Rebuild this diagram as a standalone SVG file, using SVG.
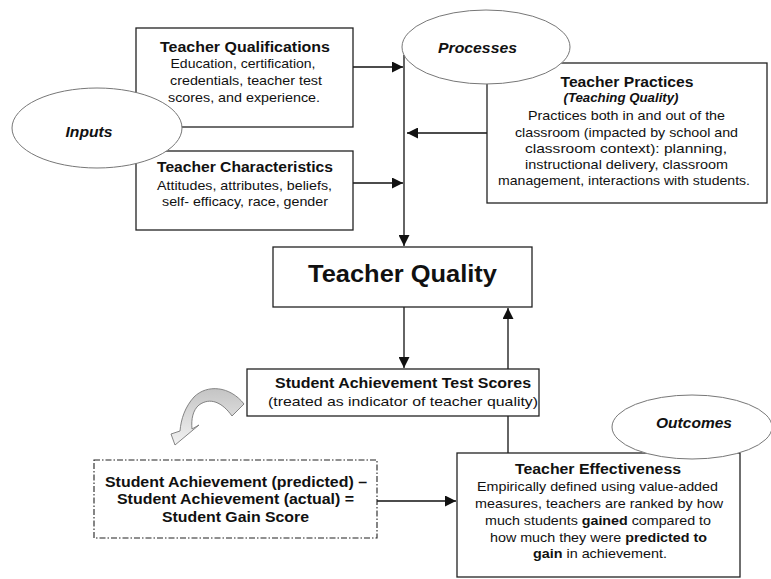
<svg xmlns="http://www.w3.org/2000/svg" width="771" height="579" viewBox="0 0 771 579">
<style>
.box{fill:#fff;stroke:#222;stroke-width:1.3}
.ell{fill:#fff;stroke:#777;stroke-width:1}
.t{font-family:"Liberation Sans",Arial,sans-serif;fill:#111;text-anchor:middle}
.b{font-weight:bold}
.h{font-size:14px;font-weight:bold}
.s{font-size:13px}
.e{font-size:14px;font-weight:bold;font-style:italic}
.ln{stroke:#111;stroke-width:1.3;fill:none}
</style>
<defs>
<marker id="ah" viewBox="0 0 10 10" refX="10" refY="5" markerWidth="11" markerHeight="11" markerUnits="userSpaceOnUse" orient="auto">
<path d="M0,0 L10,5 L0,10 Z" fill="#111"/>
</marker>
<linearGradient id="cg" x1="0" y1="0" x2="0" y2="1">
<stop offset="0" stop-color="#c4c4c4"/>
<stop offset="1" stop-color="#f2f2f2"/>
</linearGradient>
</defs>

<g id="connectors">
<line class="ln" x1="404" y1="55" x2="404" y2="246" marker-end="url(#ah)"/>
<line class="ln" x1="353" y1="67" x2="403" y2="67" marker-end="url(#ah)"/>
<line class="ln" x1="353" y1="183" x2="403" y2="183" marker-end="url(#ah)"/>
<line class="ln" x1="487" y1="133" x2="407" y2="133" marker-end="url(#ah)"/>
<line class="ln" x1="404" y1="307" x2="404" y2="368" marker-end="url(#ah)"/>
<line class="ln" x1="508" y1="453" x2="508" y2="308" marker-end="url(#ah)"/>
<line class="ln" x1="377" y1="501" x2="456" y2="501" marker-end="url(#ah)"/>
<path id="curved-arrow" d="M244,404 C230,386 207,384 194,397 C185,407 181,419 180,431 L171,434 L175,445 L199,425 L192,429 C191,419 193,410 199,405 C210,397 222,402 232,416 Z" fill="url(#cg)" stroke="#777" stroke-width="0.9"/>
</g>

<g id="teacher-qualifications">
<rect class="box" x="136" y="28" width="217" height="99"/>
<text class="t h" x="245" y="52" textLength="170" lengthAdjust="spacingAndGlyphs">Teacher Qualifications</text>
<text class="t s" x="243" y="67.5" textLength="145" lengthAdjust="spacingAndGlyphs">Education, certification,</text>
<text class="t s" x="246" y="85" textLength="152" lengthAdjust="spacingAndGlyphs">credentials, teacher test</text>
<text class="t s" x="244" y="102" textLength="152" lengthAdjust="spacingAndGlyphs">scores, and experience.</text>
</g>

<g id="teacher-characteristics">
<rect class="box" x="136" y="151" width="217" height="79"/>
<text class="t h" x="245" y="172" textLength="176" lengthAdjust="spacingAndGlyphs">Teacher Characteristics</text>
<text class="t s" x="244.5" y="190" textLength="175" lengthAdjust="spacingAndGlyphs">Attitudes, attributes, beliefs,</text>
<text class="t s" x="245" y="206" textLength="166" lengthAdjust="spacingAndGlyphs">self- efficacy, race, gender</text>
</g>

<g id="inputs">
<ellipse class="ell" cx="97" cy="128" rx="85" ry="40"/>
<text class="t e" x="89" y="137" textLength="47" lengthAdjust="spacingAndGlyphs">Inputs</text>
</g>

<g id="teacher-practices">
<rect class="box" x="487" y="63" width="280" height="140"/>
<text class="t h" x="627" y="87" textLength="133" lengthAdjust="spacingAndGlyphs">Teacher Practices</text>
<text class="t e" x="621" y="102" style="font-size:13px" textLength="115" lengthAdjust="spacingAndGlyphs">(Teaching Quality)</text>
<text class="t s" x="626.5" y="120" textLength="197" lengthAdjust="spacingAndGlyphs">Practices both in and out of the</text>
<text class="t s" x="626.5" y="137" textLength="223" lengthAdjust="spacingAndGlyphs">classroom (impacted by school and</text>
<text class="t s" x="626" y="153" textLength="202" lengthAdjust="spacingAndGlyphs">classroom context): planning,</text>
<text class="t s" x="626.5" y="169" textLength="203" lengthAdjust="spacingAndGlyphs">instructional delivery, classroom</text>
<text class="t s" x="624" y="185" textLength="252" lengthAdjust="spacingAndGlyphs">management, interactions with students.</text>
</g>

<g id="processes">
<ellipse class="ell" cx="486" cy="47" rx="84" ry="37"/>
<text class="t e" x="477.5" y="53" textLength="79" lengthAdjust="spacingAndGlyphs">Processes</text>
</g>

<g id="teacher-quality">
<rect class="box" x="273" y="247" width="259" height="60"/>
<text class="t b" x="402.5" y="282" style="font-size:23px" textLength="189" lengthAdjust="spacingAndGlyphs">Teacher Quality</text>
</g>

<g id="student-achievement-test-scores">
<rect class="box" x="247" y="369" width="292" height="47"/>
<text class="t h" x="403" y="388" textLength="256" lengthAdjust="spacingAndGlyphs">Student Achievement Test Scores</text>
<text class="t s" x="403" y="405.5" textLength="270" lengthAdjust="spacingAndGlyphs">(treated as indicator of teacher quality)</text>
</g>

<g id="student-gain-score">
<rect x="94" y="460" width="283" height="78" fill="#fff" stroke="#222" stroke-width="1.1" stroke-dasharray="6,2,1.5,2"/>
<text class="t h" x="236" y="487" textLength="262" lengthAdjust="spacingAndGlyphs">Student Achievement (predicted) –</text>
<text class="t h" x="235.5" y="504" textLength="237" lengthAdjust="spacingAndGlyphs">Student Achievement (actual) =</text>
<text class="t h" x="235.5" y="522" textLength="147" lengthAdjust="spacingAndGlyphs">Student Gain Score</text>
</g>

<g id="teacher-effectiveness">
<rect class="box" x="457" y="453" width="283" height="124"/>
<text class="t h" x="598" y="474" textLength="166" lengthAdjust="spacingAndGlyphs">Teacher Effectiveness</text>
<text class="t s" x="597.5" y="491" textLength="241" lengthAdjust="spacingAndGlyphs">Empirically defined using value-added</text>
<text class="t s" x="599" y="508" textLength="248" lengthAdjust="spacingAndGlyphs">measures, teachers are ranked by how</text>
<text class="t s" x="598" y="525" textLength="226" lengthAdjust="spacingAndGlyphs">much students <tspan class="b">gained</tspan> compared to</text>
<text class="t s" x="598.5" y="542" textLength="217" lengthAdjust="spacingAndGlyphs">how much they were <tspan class="b">predicted to</tspan></text>
<text class="t s" x="600" y="558" textLength="134" lengthAdjust="spacingAndGlyphs"><tspan class="b">gain</tspan> in achievement.</text>
</g>

<g id="outcomes">
<ellipse class="ell" cx="692" cy="427" rx="80" ry="32"/>
<text class="t e" x="694" y="428" textLength="76" lengthAdjust="spacingAndGlyphs">Outcomes</text>
</g>
</svg>
